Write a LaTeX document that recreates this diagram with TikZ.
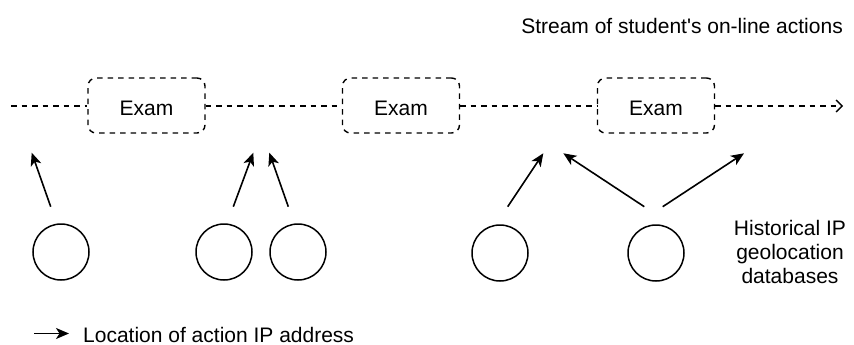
\documentclass[tikz,border=0pt]{standalone}
\usepackage{fontspec}
\setmainfont{Liberation Sans}
\usetikzlibrary{arrows.meta}
\begin{document}
\begin{tikzpicture}[x=1pt,y=-1pt,
  txt/.style={font=\fontsize{21}{24}\selectfont, inner sep=0pt},
  exambox/.style={draw, line width=1.4pt, dash pattern=on 5.5pt off 5pt, rounded corners=8pt,
    minimum width=117pt, minimum height=55pt, inner sep=0pt, text height=19pt, text depth=0pt,
    font=\fontsize{21}{24}\selectfont},
  stream/.style={line width=1.4pt, dash pattern=on 5.5pt off 5pt},
  db/.style={draw, circle, line width=1.5pt, minimum size=56pt, inner sep=0pt},
  act/.style={line width=1.6pt, -{Stealth[length=13pt,width=11pt,inset=3.5pt]}}
]
\useasboundingbox (0,0) rectangle (854,345);

% exam boxes
\node[exambox] (e1) at (146.5,105.5) {Exam};
\node[exambox] (e2) at (401,105.5) {Exam};
\node[exambox] (e3) at (656,105.5) {Exam};

% stream line
\coordinate (s0) at (11,106);
\coordinate (s1) at (843,106);
\draw[stream] (s0) -- (s0 -| e1.west);
\draw[stream] (e1.east |- s0) -- (e2.west |- s0);
\draw[stream] (e2.east |- s0) -- (e3.west |- s0);
\draw[stream, -{Straight Barb[length=6pt,width=12pt,line width=1.4pt]}] (e3.east |- s0) -- (s1);

% databases
\node[db] (c1) at (61,252) {};
\node[db] (c2) at (224,252) {};
\node[db] (c3) at (298,252) {};
\node[db] (c4) at (500,253) {};
\node[db] (c5) at (656,253) {};

% action arrows
\coordinate (a1s) at (50.7,206.7);  \coordinate (a1e) at (31.7,152.7);
\coordinate (a2s) at (233.3,206.7); \coordinate (a2e) at (253.3,152.7);
\coordinate (a3s) at (288.3,206.7); \coordinate (a3e) at (269.3,152.7);
\coordinate (a4s) at (507.7,206.7); \coordinate (a4e) at (543.3,153.3);
\coordinate (a5s) at (644.3,206.7); \coordinate (a5e) at (563.3,153.3);
\coordinate (a6s) at (662.7,206.7); \coordinate (a6e) at (744,153.3);
\draw[act] (a1s) -- (a1e);
\draw[act] (a2s) -- (a2e);
\draw[act] (a3s) -- (a3e);
\draw[act] (a4s) -- (a4e);
\draw[act] (a5s) -- (a5e);
\draw[act] (a6s) -- (a6e);

% texts
\node[txt, anchor=base east] (title) at (843,34) {Stream of student\textquotesingle s on-line actions};
\node[txt, align=center, anchor=center] (hist) at (790,252) {Historical IP\\geolocation\\databases};

% legend
\coordinate (l0) at (34,333.5);
\coordinate (l1) at (69,333.5);
\draw[act] (l0) -- (l1);
\node[txt, anchor=base west] (leg) at (83,342.5) {Location of action IP address};
\end{tikzpicture}
\end{document}
